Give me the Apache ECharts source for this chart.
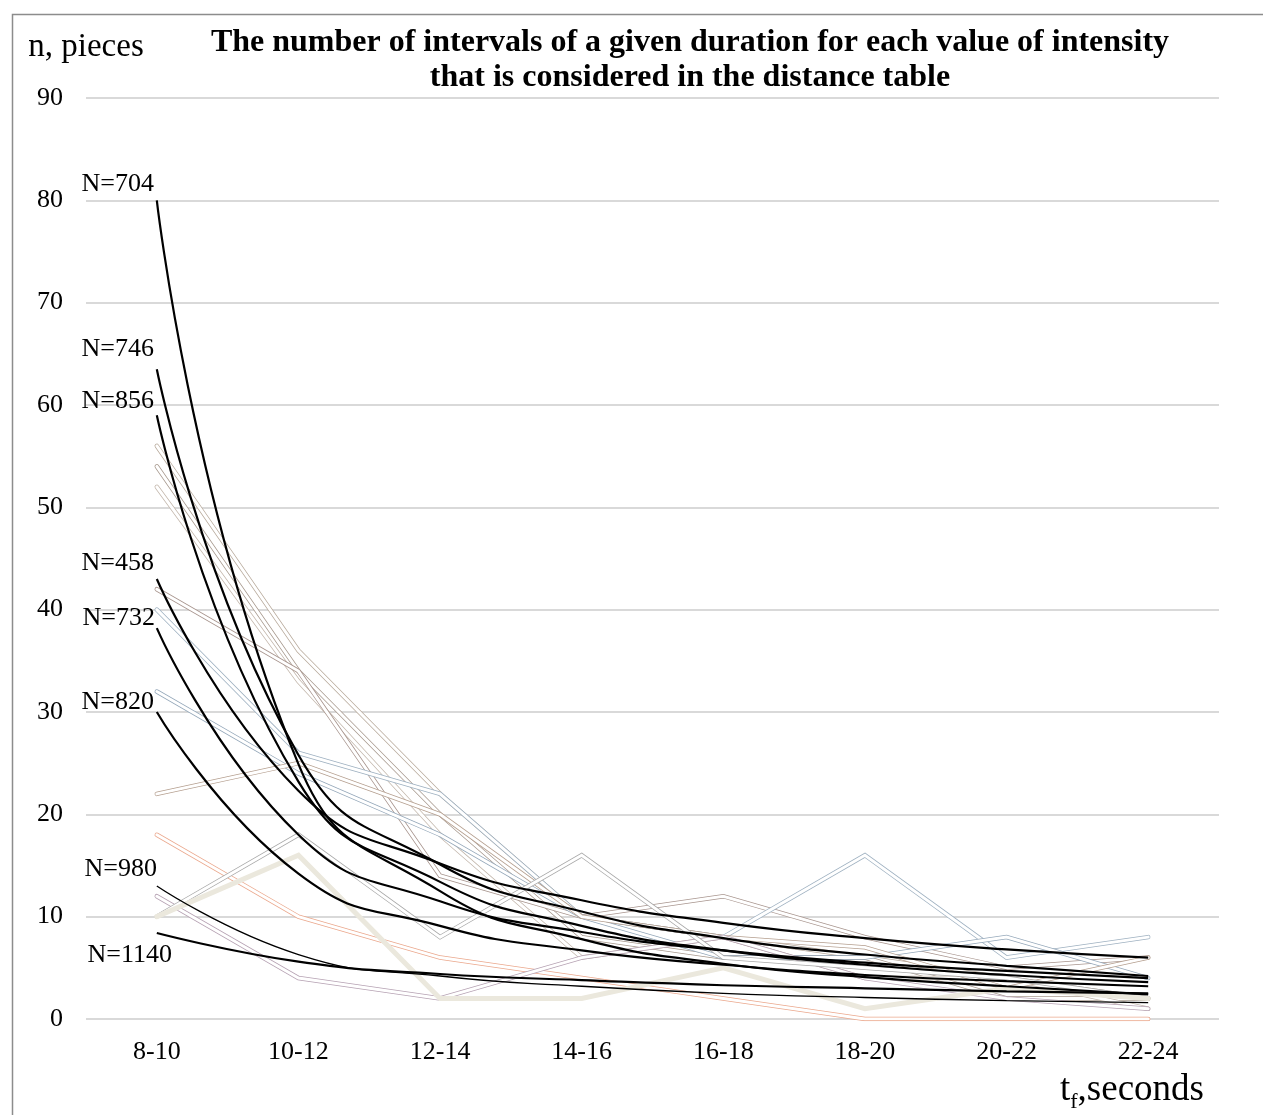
<!DOCTYPE html>
<html>
<head>
<meta charset="utf-8">
<script src="https://cdn.jsdelivr.net/npm/echarts@6/dist/echarts.min.js"></script>
<style>html,body{margin:0;padding:0;background:#fff;}#c{width:1263px;height:1115px;}</style>
</head>
<body>
<div id="c"></div>
<script>
// ---------- data ----------
const categories = ['8-10','10-12','12-14','14-16','16-18','18-20','20-22','22-24'];
const yTicks = [0,10,20,30,40,50,60,70,80,90];

// raw observed series (faint outlined lines)
const raw1  = [56, 36, 22, 10, 8, 6, 4, 2];
const raw2  = [54, 34, 20, 8, 6, 6, 2, 2];
const raw3  = [52, 33, 18, 6, 8, 4, 4, 1];
const raw4  = [42, 34, 14, 10, 12, 8, 5, 6];
const raw5  = [40, 26, 22, 10, 8, 16, 6, 8];
const raw6  = [32, 24, 18, 10, 6, 6, 8, 4];
const raw7  = [22, 25, 20, 10, 8, 7, 3, 6];
const raw8  = [18, 10, 6, 4, 2, 0, 0, 0];
const raw9  = [12, 4, 2, 6, 8, 4, 2, 1];
const raw10 = [10, 18, 8, 16, 6, 5, 4, 2];
const raw11 = [10, 16, 2, 2, 5, 1, 3, 2];

// trend curves (black)
const trendNames = ['N=704','N=746','N=856','N=458','N=732','N=820','N=980','N=1140'];
const t704  = [80, 24.9, 12.5, 7.8, 5.4, 4.1, 3.2, 2.4];
const t746  = [63.5, 25.8, 15.1, 10.5, 7.9, 6.3, 5.2, 4.2];
const t856  = [59, 23.2, 13.4, 9.1, 6.7, 5.3, 4.3, 3.6];
const t458  = [43, 22.3, 15.2, 11.6, 9.4, 7.9, 6.8, 6.0];
const t732  = [38.2, 18.0, 11.5, 8.5, 6.7, 5.5, 4.7, 4.0];
const t820  = [30, 14.2, 9.1, 6.7, 5.3, 4.3, 3.7, 3.2];
const t980  = [13, 6.3, 4.2, 3.2, 2.5, 2.1, 1.8, 1.6];
const t1140 = [8.4, 5.6, 4.4, 3.8, 3.3, 3.0, 2.7, 2.5];

// ---------- styles ----------
const FONT = '"Liberation Serif", "Times New Roman", serif';
const rawSets = [
  {d: raw1,  c: '#b8aa9c'},
  {d: raw2,  c: '#a89a8f'},
  {d: raw3,  c: '#c4b8ad'},
  {d: raw4,  c: '#a8958e'},
  {d: raw5,  c: '#9fb1c1'},
  {d: raw6,  c: '#95a8ba'},
  {d: raw7,  c: '#b59f8f'},
  {d: raw8,  c: '#eba88d'},
  {d: raw9,  c: '#b6a2b3'},
  {d: raw10, c: '#a9a9a9'},
];
const trendSets = [
  {d: t704,  n: trendNames[0], pos: [-39, -16], w: 2.2},
  {d: t746,  n: trendNames[1], pos: [-39, -20], w: 2.2},
  {d: t856,  n: trendNames[2], pos: [-39, -14], w: 2.2},
  {d: t458,  n: trendNames[3], pos: [-39, -16], w: 2.2},
  {d: t732,  n: trendNames[4], pos: [-38, -10], w: 2.2},
  {d: t820,  n: trendNames[5], pos: [-39, -10], w: 2.2},
  {d: t980,  n: trendNames[6], pos: [-36, -17], w: 1.3},
  {d: t1140, n: trendNames[7], pos: [-27, 22], w: 2.2},
];

const series = [];
rawSets.forEach((s, i) => {
  series.push({
    type: 'line', data: s.d, symbol: 'none', silent: true, z: 2,
    lineStyle: {color: s.c, width: 4.5, cap: 'round', join: 'miter'}
  });
  series.push({
    type: 'line', data: s.d, symbol: 'none', silent: true, z: 2,
    lineStyle: {color: '#ffffff', width: 3, cap: 'round', join: 'miter'}
  });
});
series.push({
  type: 'line', data: raw11, symbol: 'none', silent: true, z: 2,
  lineStyle: {color: '#ebe8dd', width: 5, cap: 'round', join: 'miter'}
});
trendSets.forEach((s) => {
  series.push({
    type: 'line', name: s.n, z: 5, silent: true,
    smooth: 0.5,
    symbol: 'circle', symbolSize: 0, showSymbol: true,
    itemStyle: {color: '#000'},
    lineStyle: {color: '#000', width: s.w},
    label: {show: false},
    data: s.d.map((v, i) => i === 0 ? {
      value: v,
      label: {show: true, formatter: s.n, position: s.pos, align: 'center', verticalAlign: 'middle',
              color: '#000', fontFamily: FONT, fontSize: 26}
    } : v)
  });
});

const chart = echarts.init(document.getElementById('c'), null, {renderer: 'canvas'});
chart.setOption({
  animation: false,
  backgroundColor: '#fff',
  title: {
    text: 'The number of intervals of a given duration for each value of intensity\nthat is considered in the distance table',
    left: 685, top: 20, textAlign: 'center',
    textStyle: {fontFamily: FONT, fontWeight: 'bold', fontSize: 32, lineHeight: 35, color: '#000'}
  },
  grid: {left: 86, right: 44, top: 98, bottom: 96, containLabel: false},
  xAxis: {
    type: 'category', data: categories, boundaryGap: true,
    axisLine: {show: false}, axisTick: {show: false},
    axisLabel: {color: '#000', fontFamily: FONT, fontSize: 26, margin: 20},
    splitLine: {show: false}
  },
  yAxis: {
    type: 'value', min: yTicks[0], max: yTicks[yTicks.length - 1], interval: 10,
    name: 'n, pieces', nameLocation: 'end', nameGap: 51,
    nameTextStyle: {color: '#000', fontFamily: FONT, fontSize: 33, align: 'center', verticalAlign: 'middle'},
    axisLine: {show: false}, axisTick: {show: false},
    axisLabel: {color: '#000', fontFamily: FONT, fontSize: 26, margin: 23},
    splitLine: {lineStyle: {color: '#d9d9d9', width: 2}}
  },
  graphic: [
    {type: 'rect', left: 10, top: 12, z: 0, silent: true,
     shape: {width: 1300, height: 1200},
     style: {fill: 'none', stroke: '#8c8c8c', lineWidth: 1.5}},
    {type: 'text', left: 1060, top: 1072, z: 10, silent: true,
     style: {
       text: '{t|t}{s|f}{t|,seconds}',
       rich: {
         t: {fontFamily: FONT, fontSize: 37, lineHeight: 37, verticalAlign: 'top', fill: '#000'},
         s: {fontFamily: FONT, fontSize: 22, lineHeight: 22, padding: [19, 0, 0, 0], verticalAlign: 'top', fill: '#000'}
       }
     }}
  ],
  series: series
});
</script>
</body>
</html>
